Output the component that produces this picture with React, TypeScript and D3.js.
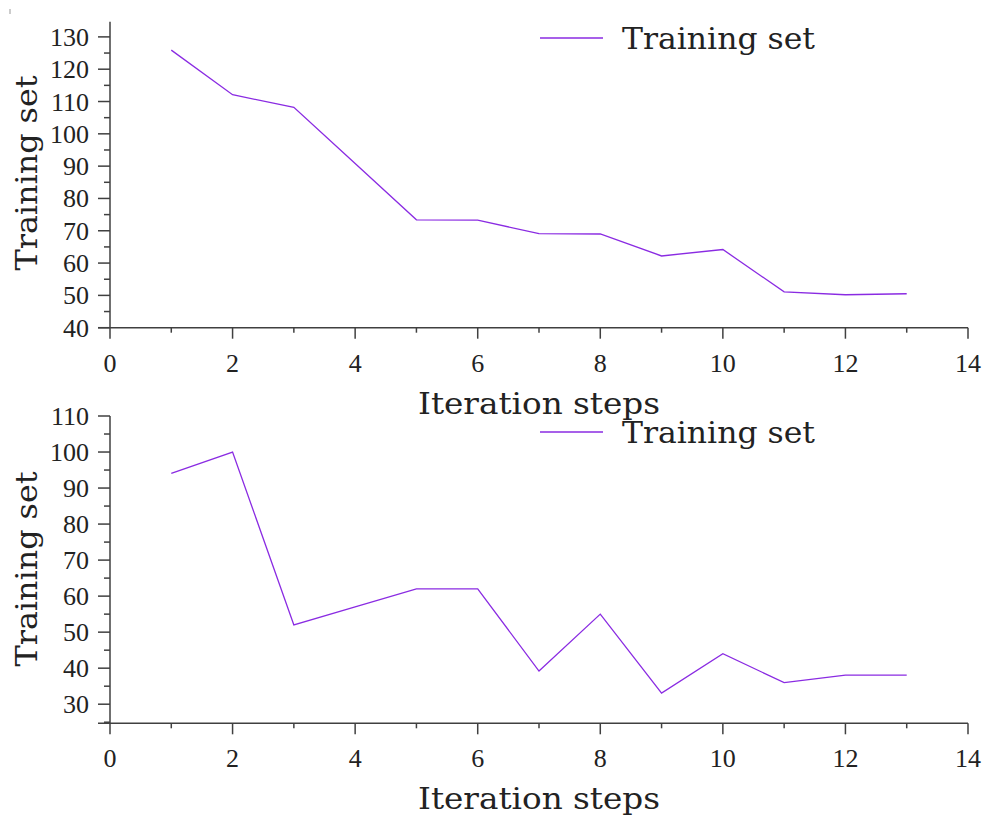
import React from "react";
import * as d3 from "d3";

const steps = [1, 2, 3, 4, 5, 6, 7, 8, 9, 10, 11, 12, 13];
const topValues = [125.9, 112.1, 108.2, 90.8, 73.4, 73.3, 69.1, 69.0, 62.2, 64.2, 51.1, 50.2, 50.5];
const bottomValues = [94.1, 100, 52.0, 57.0, 62.0, 62.0, 39.2, 55.0, 33.1, 44.0, 36.0, 38.1, 38.1];
const xTicks = [0, 2, 4, 6, 8, 10, 12, 14];
const topYTicks = [40, 50, 60, 70, 80, 90, 100, 110, 120, 130];
const bottomYTicks = [30, 40, 50, 60, 70, 80, 90, 100, 110];
const seriesName = "Training set";
const xLabel = "Iteration steps";
const yLabel = "Training set";

const AXIS = "#404040";
const LINE = "#8a2be2";
const TICKFONT = "'Liberation Serif', 'Times New Roman', serif";
const LABELFONT = "'DejaVu Serif', serif";

type PanelProps = {
  values: number[];
  yDomain: [number, number];
  yTicks: number[];
  top: number;
  bottom: number;
  legendY: number;
  xLabelY: number;
  yLabelCenter: number;
};

function Panel({ values, yDomain, yTicks, top, bottom, legendY, xLabelY, yLabelCenter }: PanelProps) {
  const x = d3.scaleLinear().domain([0, 14]).range([110, 968]);
  const y = d3.scaleLinear().domain(yDomain).range([bottom, top]);
  const line = d3
    .line<number>()
    .x((_, i) => x(steps[i]))
    .y((d) => y(d));
  const minorX = d3.range(1, 14, 2);
  const minorY: number[] = [];
  for (let v = Math.ceil(yDomain[0] / 5) * 5; v <= yDomain[1]; v += 5) {
    if (v % 10 !== 0) minorY.push(v);
  }
  const x0 = x(0);
  const tickStyle = { fontFamily: TICKFONT } as React.CSSProperties;
  const labelStyle = { fontFamily: LABELFONT } as React.CSSProperties;
  return (
    <g>
      <path d={line(values) || ""} fill="none" stroke={LINE} strokeWidth={1.3} />
      <line x1={x0} x2={x0} y1={top} y2={bottom} stroke={AXIS} strokeWidth={1.5} />
      {yTicks.map((t) => (
        <g key={"yt" + t}>
          <line x1={x0 - 12} x2={x0} y1={y(t)} y2={y(t)} stroke={AXIS} strokeWidth={1.5} />
          <text x={x0 - 21} y={y(t) + 9} textAnchor="end" style={tickStyle} fontSize={26} fill="#222">
            {t}
          </text>
        </g>
      ))}
      {minorY.map((t) => (
        <line key={"ym" + t} x1={x0 - 6} x2={x0} y1={y(t)} y2={y(t)} stroke={AXIS} strokeWidth={1.5} />
      ))}
      <line x1={x0 - 12} x2={x(14)} y1={bottom} y2={bottom} stroke={AXIS} strokeWidth={1.5} />
      {xTicks.map((t) => (
        <g key={"xt" + t}>
          <line x1={x(t)} x2={x(t)} y1={bottom} y2={bottom + 11} stroke={AXIS} strokeWidth={1.5} />
          <text x={x(t)} y={bottom + 44} textAnchor="middle" style={tickStyle} fontSize={26} fill="#222">
            {t}
          </text>
        </g>
      ))}
      {minorX.map((t) => (
        <line key={"xm" + t} x1={x(t)} x2={x(t)} y1={bottom} y2={bottom + 5} stroke={AXIS} strokeWidth={1.5} />
      ))}
      <text
        x={(x(0) + x(14)) / 2}
        y={xLabelY}
        textAnchor="middle"
        style={labelStyle}
        fontSize={29}
        textLength={242}
        lengthAdjust="spacingAndGlyphs"
        fill="#222"
      >
        {xLabel}
      </text>
      <text
        transform={`translate(37,${yLabelCenter}) rotate(-90)`}
        textAnchor="middle"
        style={labelStyle}
        fontSize={29}
        textLength={195}
        lengthAdjust="spacingAndGlyphs"
        fill="#222"
      >
        {yLabel}
      </text>
      <line x1={540} x2={603} y1={legendY} y2={legendY} stroke={LINE} strokeWidth={1.3} />
      <text
        x={622}
        y={legendY + 11}
        style={labelStyle}
        fontSize={29}
        textLength={193}
        lengthAdjust="spacingAndGlyphs"
        fill="#222"
      >
        {seriesName}
      </text>
    </g>
  );
}

export default function App() {
  return (
    <svg
      width={984}
      height={816}
      style={{ position: "absolute", left: 0, top: 0, background: "#fff" }}
    >
      <rect x={0} y={0} width={984} height={816} fill="#fff" />
      <rect x={9} y={9} width={2} height={5} fill="#ccc" />
      <Panel
        values={topValues}
        yDomain={[40, 134.7]}
        yTicks={topYTicks}
        top={21.7}
        bottom={327.7}
        legendY={38}
        xLabelY={414}
        yLabelCenter={173}
      />
      <Panel
        values={bottomValues}
        yDomain={[24.7, 110]}
        yTicks={bottomYTicks}
        top={416}
        bottom={723.3}
        legendY={432}
        xLabelY={809}
        yLabelCenter={569}
      />
    </svg>
  );
}
